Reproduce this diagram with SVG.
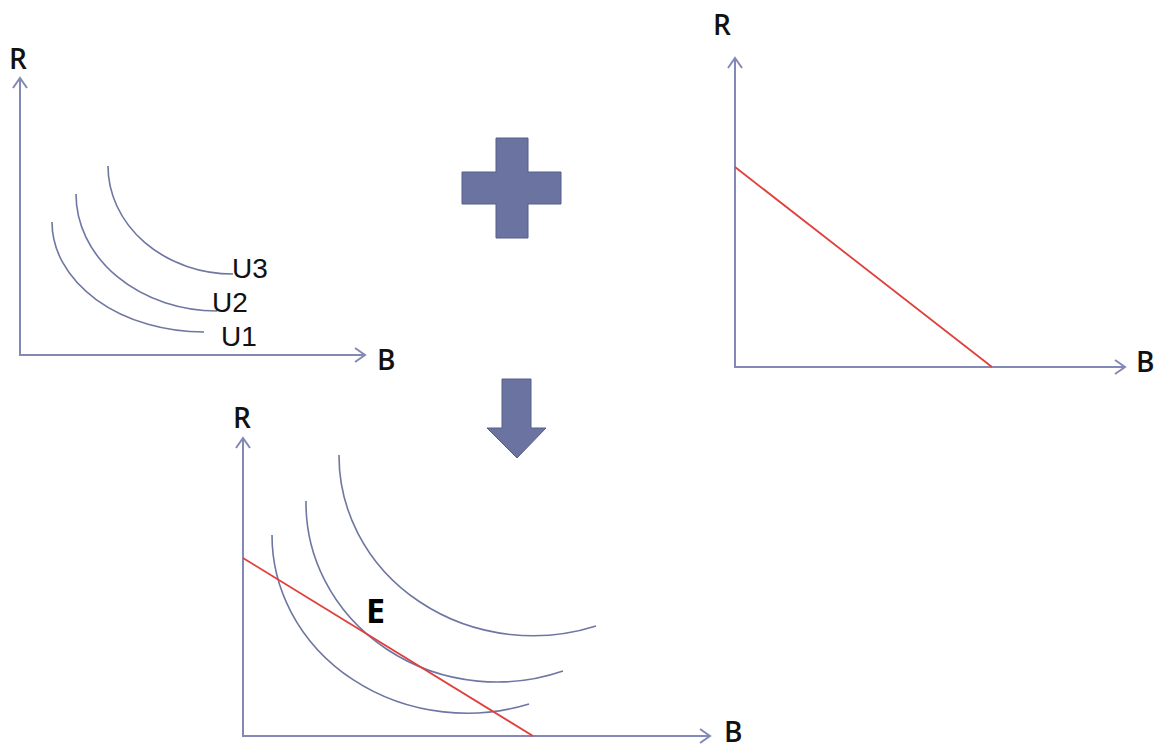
<svg xmlns="http://www.w3.org/2000/svg" width="1168" height="749" viewBox="0 0 1168 749">
<style>
.axis{fill:none;stroke:#8389b5;stroke-width:2;marker-end:url(#chev)}
.curve{fill:none;stroke:#6e76a2;stroke-width:1.6}
.budget{fill:none;stroke:#e0403c;stroke-width:1.8}
.ax{font-family:"Open Sans","Liberation Sans",sans-serif;font-weight:600;font-size:28px;fill:#111}
.ul{font-family:"Liberation Sans",Arial,sans-serif;font-size:28px;fill:#111}
.e{font-family:"Open Sans","Liberation Sans",sans-serif;font-weight:700;font-size:34px;fill:#000}
.shape{fill:#6b74a0;stroke:#555e8a;stroke-width:1}
</style>
<defs>
<marker id="chev" markerUnits="userSpaceOnUse" markerWidth="14" markerHeight="18" viewBox="-12 -9 14 18" refX="0" refY="0" orient="auto">
<path d="M-10,-7 L0,0 L-10,7" fill="none" stroke="#8389b5" stroke-width="2"/>
</marker>
</defs>
<rect width="1168" height="749" fill="#fff"/>

<g id="chart-preferences">
<line class="axis" x1="20" y1="356" x2="20" y2="78"/>
<line class="axis" x1="20" y1="355" x2="365" y2="355"/>
<path class="curve" d="M52,222 A152,110 0 0 0 204,332"/>
<path class="curve" d="M76,194 A141,117 0 0 0 217,311"/>
<path class="curve" d="M108,166 A125,108 0 0 0 233,274"/>
<text class="ax" x="9" y="69">R</text>
<text class="ax" x="377" y="370">B</text>
<text class="ul" x="232" y="278">U3</text>
<text class="ul" x="212" y="312">U2</text>
<text class="ul" x="221" y="346">U1</text>
</g>

<g id="plus-sign">
<polygon class="shape" points="496,138 528,138 528,172 561,172 561,204 528,204 528,238 496,238 496,204 462,204 462,172 496,172"/>
</g>

<g id="chart-budget">
<line class="axis" x1="735" y1="368" x2="735" y2="58"/>
<line class="axis" x1="735" y1="367" x2="1125" y2="367"/>
<line class="budget" x1="735" y1="167" x2="992" y2="367"/>
<text class="ax" x="713" y="35">R</text>
<text class="ax" x="1136" y="372">B</text>
</g>

<g id="down-arrow">
<polygon class="shape" points="502,379 531,379 531,428 546,428 517,458 487,428 502,428"/>
</g>

<g id="chart-equilibrium">
<line class="axis" x1="243" y1="737" x2="243" y2="438"/>
<line class="axis" x1="243" y1="736" x2="710" y2="736"/>
<path class="curve" d="M272,535 A195,178 0 0 0 529,704"/>
<path class="curve" d="M306,501 A191,179 0 0 0 563,671"/>
<path class="curve" d="M339,455 A194,180 0 0 0 596,626"/>
<line class="budget" x1="243" y1="558" x2="533" y2="736"/>
<text class="ax" x="233" y="428">R</text>
<text class="ax" x="724" y="742">B</text>
<text class="e" x="366" y="623">E</text>
</g>
</svg>
